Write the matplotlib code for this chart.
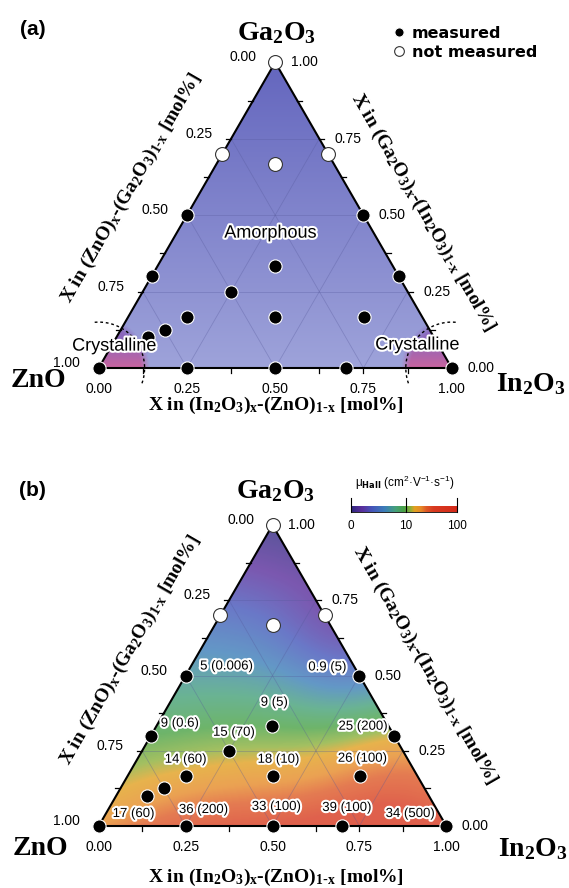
import numpy as np
import matplotlib.pyplot as plt
import matplotlib.patheffects as pe
from matplotlib.colors import LinearSegmentedColormap, to_rgb
from matplotlib.patches import Polygon

plt.rcParams["mathtext.default"] = "regular"

# film compositions as mole fractions of In2O3 and Ga2O3 (ZnO is the rest)
meas_in = [0.00, 0.25, 0.50, 0.70, 1.00, 0.09, 0.125, 0.167, 0.417, 0.667,
           0.00, 0.25, 0.70, 0.333, 0.00, 0.50]
meas_ga = [0.00, 0.00, 0.00, 0.00, 0.00, 0.10, 0.125, 0.167, 0.167, 0.167,
           0.30, 0.25, 0.30, 0.333, 0.50, 0.50]
# Hall mobility [cm2/Vs] and the value quoted in brackets
hall_mu = [17, 36, 33, 39, 34, None, None, 14, 18, 26, 9, 15, 25, 9, 5, 0.9]
bracket = [60, 200, 100, 100, 500, None, None, 60, 10, 100, 0.6, 70, 200, 5, 0.006, 5]

unmeas_in = [0.00, 0.00, 0.30, 0.167]
unmeas_ga = [1.00, 0.70, 0.70, 0.667]

axis_ticks = [0.0, 0.25, 0.5, 0.75, 1.0]
cbar_ticks = [0, 10, 100]

# label offsets in pixels for the mobility annotations
mu_label_offsets = [(35, 12), (18, 16), (4, 19), (5, 18), (-36, 12), None, None,
                    (0, 16), (6, 16), (3, 17), (29, 12), (5, 18), (-31, 9),
                    (2, 23), (41, 9), (-32, 8)]

H = np.sqrt(3) / 2
SERIF = dict(family="Liberation Serif", weight="bold")
HALO = [pe.withStroke(linewidth=3, foreground="white")]


def to_xy(frac_in, frac_ga):
    frac_in = np.asarray(frac_in, float)
    frac_ga = np.asarray(frac_ga, float)
    return frac_in + frac_ga / 2, frac_ga * H


def frame(ax, scale, title_pos, comp_pos):
    tri = Polygon([(0, 0), (1, 0), (0.5, H)], closed=True, fill=False,
                  ec="black", lw=1.5, zorder=5)
    ax.add_patch(tri)
    L = 5 / scale
    for v in np.arange(0, 1.001, 0.125):
        # left edge: ZnO fraction, right edge: Ga2O3 fraction, bottom: In2O3 fraction
        xl, yl = to_xy(0, 1 - v)
        ax.plot([xl, xl - L], [yl, yl], color="black", lw=0.9, zorder=5)
        xr, yr = to_xy(1 - v, v)
        ax.plot([xr, xr + L], [yr, yr], color="black", lw=0.9, zorder=5)
        ax.plot([v, v], [0, -L], color="black", lw=0.9, zorder=5)
    for v in axis_ticks:
        lab = f"{v:.2f}"
        ax.annotate(lab, to_xy(0, 1 - v), xytext=(-32, 5), textcoords="offset pixels",
                    ha="center", va="center", fontsize=10, family="Liberation Sans")
        ax.annotate(lab, to_xy(1 - v, v), xytext=(29, 0), textcoords="offset pixels",
                    ha="center", va="center", fontsize=10, family="Liberation Sans")
        ax.annotate(lab, (v, 0), xytext=(0, -21), textcoords="offset pixels",
                    ha="center", va="center", fontsize=10, family="Liberation Sans")
    # inner grid
    for v in [0.25, 0.5, 0.75]:
        ax.plot(*to_xy([0, 1 - v], [v, v]), color="#55589a", lw=0.6, alpha=0.35, zorder=2)
        ax.plot(*to_xy([v, v], [0, 1 - v]), color="#55589a", lw=0.6, alpha=0.35, zorder=2)
        ax.plot(*to_xy([v, 0], [0, v]), color="#55589a", lw=0.6, alpha=0.35, zorder=2)

    left, right, bottom = title_pos
    ax.text(*left, r"X in (ZnO)$_x$-(Ga$_2$O$_3$)$_{1\text{-}x}$ [mol%]", rotation=60,
            ha="center", va="center", fontsize=14, **SERIF)
    ax.text(*right, r"X in (Ga$_2$O$_3$)$_x$-(In$_2$O$_3$)$_{1\text{-}x}$ [mol%]", rotation=-60,
            ha="center", va="center", fontsize=14, **SERIF)
    ax.text(*bottom, r"X in (In$_2$O$_3$)$_x$-(ZnO)$_{1\text{-}x}$ [mol%]",
            ha="center", va="center", fontsize=14, **SERIF)
    top, zno, ino = comp_pos
    ax.text(*top, r"Ga$_2$O$_3$", ha="center", va="center", fontsize=20, **SERIF)
    ax.text(*zno, "ZnO", ha="center", va="center", fontsize=20, **SERIF)
    ax.text(*ino, r"In$_2$O$_3$", ha="center", va="center", fontsize=20, **SERIF)


def points(ax):
    mx, my = to_xy(meas_in, meas_ga)
    ux, uy = to_xy(unmeas_in, unmeas_ga)
    h1, = ax.plot(mx, my, "o", ms=9.5, mfc="black", mec="white", mew=0.8,
                  ls="none", zorder=8, label="measured", clip_on=False)
    h2, = ax.plot(ux, uy, "o", ms=10, mfc="white", mec="#333333", mew=0.8,
                  ls="none", zorder=8, label="not measured", clip_on=False)
    return h1, h2


fig = plt.figure(figsize=(5.69, 8.88), dpi=100)

# grid over the triangle for the shaded fields
gx, gy = np.meshgrid(np.linspace(0, 1, 500), np.linspace(0, H, 440))
g_ga = gy / H
g_in = gx - g_ga / 2

# ---------------- (a) amorphous / crystalline map ----------------
ax1 = fig.add_axes([0, 0.5, 1, 0.5])
ax1.set_xlim(-0.2796, 1.3323)
ax1.set_ylim(-0.2153, 1.0425)
ax1.axis("off")

top_c, bot_c = np.array(to_rgb("#6466be")), np.array(to_rgb("#9ea3da"))
t = (gy / H)[..., None]
field_a = bot_c * (1 - t) + top_c * t
crystalline_radius = 0.13
pink, violet = np.array(to_rgb("#c8649f")), np.array(to_rgb("#8a66bc"))
for cx in (0.0, 1.0):
    d = np.hypot(gx - cx, gy)
    w = np.clip((crystalline_radius - d) / 0.025 + 0.5, 0, 1)[..., None]
    mix = np.clip(gy / 0.08, 0, 1)[..., None]
    col = pink * (1 - mix) + violet * mix
    field_a = field_a * (1 - w) + col * w
tri_a = Polygon([(0, 0), (1, 0), (0.5, H)], closed=True, transform=ax1.transData)
im = ax1.imshow(field_a, extent=(0, 1, 0, H), origin="lower", zorder=1,
                interpolation="bilinear", aspect="auto")
im.set_clip_path(tri_a)

frame(ax1, 353,
      ((0.0915, 0.51), (0.919, 0.442), (0.502, -0.105)),
      ((0.505, 0.949), (-0.172, -0.034), (1.225, -0.045)))
h1, h2 = points(ax1)

# crystalline boundaries
for cx, a0, a1 in ((0.0, 95, -20), (1.0, 85, 200)):
    ang = np.radians(np.linspace(a0, a1, 60))
    ax1.plot(cx + crystalline_radius * np.cos(ang), crystalline_radius * np.sin(ang),
             color="black", lw=1.0, ls=(0, (2, 2)), zorder=4, clip_on=False)

ax1.text(0.486, 0.382, "Amorphous", ha="center", va="center", fontsize=13,
         family="Liberation Sans", path_effects=HALO, zorder=9)
ax1.text(0.044, 0.062, "Crystalline", ha="center", va="center", fontsize=13,
         family="Liberation Sans", path_effects=HALO, zorder=9)
ax1.text(0.9026, 0.065, "Crystalline", ha="center", va="center", fontsize=13,
         family="Liberation Sans", path_effects=HALO, zorder=9)

ax1.legend([h1, h2], ["measured", "not measured"], loc="upper left",
           bbox_to_anchor=(0.69, 0.942), frameon=False, markerscale=0.7,
           handlelength=0.8, handletextpad=0.4, labelspacing=0.25, borderpad=0,
           borderaxespad=0, prop=dict(family="DejaVu Sans", weight="bold", size=11.5))
fig.text(0.058, 0.967, "(a)", ha="center", va="center", fontsize=15,
         weight="bold", family="Liberation Sans")

# ---------------- (b) Hall mobility map ----------------
ax2 = fig.add_axes([0, 0, 1, 0.5])
ax2.set_xlim(-0.284, 1.353)
ax2.set_ylim(-0.1784, 1.0993)
ax2.axis("off")

cmap = LinearSegmentedColormap.from_list("mu", [
    (0.00, "#2e2880"), (0.10, "#5a2e9c"), (0.20, "#4556ba"), (0.32, "#3c7fb8"),
    (0.42, "#45a07a"), (0.50, "#49a245"), (0.56, "#8cb03a"), (0.60, "#e2a020"),
    (0.66, "#e68a28"), (0.71, "#de5a26"), (0.78, "#d83a20"), (1.00, "#d42a1a")])
zmax = np.log10(1 + cbar_ticks[-1])

# log(1+mu) surface: bilinear trend fitted to the measured films,
# plus kernel-smoothed residuals so the local values show through
fit = [(i, g, np.log10(1 + m)) for i, g, m in zip(meas_in, meas_ga, hall_mu) if m is not None]
f_in = np.array([p[0] for p in fit])
f_ga = np.array([p[1] for p in fit])
f_z = np.array([p[2] for p in fit])


def trend_terms(i, g):
    return [np.ones_like(i), i, g, i * g]


coef = np.linalg.lstsq(np.column_stack(trend_terms(f_in, f_ga)), f_z, rcond=None)[0]
resid = f_z - np.column_stack(trend_terms(f_in, f_ga)) @ coef
zz = sum(c * term for c, term in zip(coef, trend_terms(g_in, g_ga)))
fx, fy = to_xy(f_in, f_ga)
wsum = np.full(gx.shape, 0.4)
rsum = np.zeros(gx.shape)
for x0, y0, r in zip(fx, fy, resid):
    w = np.exp(-((gx - x0) ** 2 + (gy - y0) ** 2) / (2 * 0.13 ** 2))
    wsum += w
    rsum += w * r
zz = zz + rsum / wsum

field_b = cmap(np.clip(zz / zmax, 0, 1))
tri_b = Polygon([(0, 0), (1, 0), (0.5, H)], closed=True, transform=ax2.transData)
im2 = ax2.imshow(field_b, extent=(0, 1, 0, H), origin="lower", zorder=1, alpha=0.8,
                 interpolation="bilinear", aspect="auto")
im2.set_clip_path(tri_b)

frame(ax2, 347.5,
      ((0.092, 0.505), (0.94, 0.462), (0.509, -0.147)),
      ((0.5096, 0.965), (-0.169, -0.066), (1.25, -0.066)))
points(ax2)

mx, my = to_xy(meas_in, meas_ga)
for x, y, m, n, off in zip(mx, my, hall_mu, bracket, mu_label_offsets):
    if m is None:
        continue
    ax2.annotate(f"{m:g} ({n:g})", (x, y), xytext=off, textcoords="offset pixels",
                 ha="center", va="center", fontsize=9.5, family="Liberation Sans",
                 path_effects=HALO, zorder=9)

fig.text(0.0575, 0.4474, "(b)", ha="center", va="center", fontsize=15,
         weight="bold", family="Liberation Sans")

# colour scale
cax = fig.add_axes([0.617, 0.4234, 0.186, 0.0068])
cax.imshow(np.linspace(0, 1, 256)[None, :], cmap=cmap, aspect="auto",
           extent=(0, zmax, 0, 1))
cax.set_xlim(0, zmax)
cax.set_ylim(0, 1)
cax.axis("off")
for v in cbar_ticks:
    zt = np.log10(1 + v)
    cax.plot([zt, zt], [0, 2.4], color="black", lw=0.8, clip_on=False)
    cax.text(zt, -1.3, f"{v}", ha="center", va="top", fontsize=8.5,
             family="Liberation Sans")
cax.plot([0, zmax], [0, 0], color="black", lw=0.6, clip_on=False)
fig.text(0.711, 0.456, r"$\mu_{\mathbf{Hall}}$ (cm$^2$·V$^{-1}$·s$^{-1}$)",
         ha="center", va="center", fontsize=8.5, family="Liberation Sans")

fig.savefig("out.png", dpi=100)
